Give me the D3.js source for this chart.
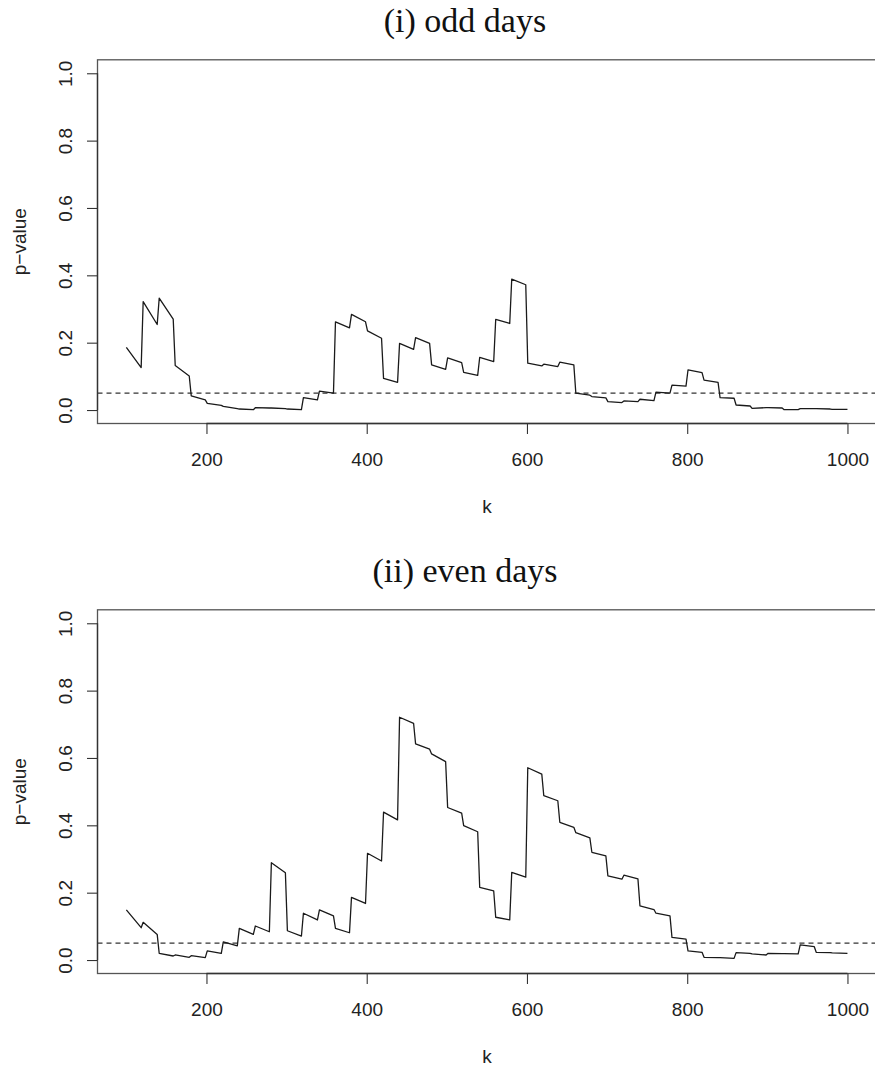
<!DOCTYPE html>
<html>
<head>
<meta charset="utf-8">
<script src="https://cdn.jsdelivr.net/npm/d3@7"></script>
<style>
  html, body { margin: 0; padding: 0; background: #fff; }
  svg { display: block; }
</style>
</head>
<body>
<svg id="chart" width="875" height="1066"></svg>
<script>
// ---------- data ----------
const panelTitles = ["(i) odd days", "(ii) even days"];
const xTickValues = [200, 400, 600, 800, 1000];
const yTickValues = [0, 0.2, 0.4, 0.6, 0.8, 1.0];
const threshold = 0.05;
const xLabel = "k";
const yLabel = "p\u2212value";

const oddK = [100,118.5,121,138.5,141,158.5,161,178.5,181,198.5,201,218.5,221,238.5,241,258.5,261,278.5,281,298.5,301,318.5,321,338.5,341,358.5,361,378.5,381,398.5,401,418.5,421,438.5,441,458.5,461,478.5,481,498.5,501,518.5,521,538.5,541,558.5,561,578.5,581,598.5,601,618.5,621,638.5,641,658.5,661,678.5,681,698.5,701,718.5,721,738.5,741,758.5,761,778.5,781,798.5,801,818.5,821,838.5,841,858.5,861,878.5,881,898.5,901,918.5,921,938.5,941,958.5,961,978.5,981,1000];
const oddP = [0.186,0.126,0.322,0.254,0.332,0.270,0.132,0.101,0.042,0.030,0.020,0.014,0.011,0.004,0.003,0.001,0.007,0.006,0.006,0.004,0.003,0.001,0.037,0.030,0.056,0.050,0.262,0.244,0.284,0.262,0.235,0.213,0.094,0.082,0.198,0.180,0.215,0.198,0.134,0.121,0.155,0.141,0.112,0.103,0.156,0.144,0.269,0.257,0.389,0.372,0.139,0.131,0.136,0.129,0.142,0.134,0.050,0.044,0.040,0.036,0.025,0.022,0.027,0.025,0.032,0.028,0.053,0.050,0.074,0.071,0.119,0.111,0.089,0.082,0.037,0.035,0.015,0.012,0.005,0.007,0.007,0.006,0.001,0.001,0.004,0.004,0.004,0.003,0.002,0.002];

const evenK = oddK.slice();
const evenP = [0.149,0.096,0.112,0.076,0.020,0.012,0.015,0.008,0.013,0.007,0.027,0.020,0.054,0.042,0.094,0.076,0.101,0.084,0.289,0.259,0.087,0.071,0.139,0.119,0.149,0.131,0.094,0.081,0.186,0.168,0.317,0.294,0.439,0.416,0.721,0.703,0.642,0.626,0.612,0.589,0.453,0.436,0.399,0.381,0.216,0.205,0.127,0.119,0.260,0.246,0.571,0.552,0.488,0.473,0.409,0.394,0.378,0.363,0.320,0.309,0.250,0.240,0.252,0.241,0.161,0.150,0.139,0.131,0.067,0.062,0.027,0.023,0.008,0.007,0.007,0.005,0.022,0.020,0.018,0.015,0.020,0.019,0.019,0.018,0.045,0.040,0.023,0.022,0.021,0.020];

const panels = [
  { title: panelTitles[0], k: oddK, p: oddP },
  { title: panelTitles[1], k: evenK, p: evenP }
];

// ---------- layout ----------
const svg = d3.select("#chart");
const plotLeft = 97.5, plotRight = 876.3;
const panelOffset = 550;
const axisColor = "#333";
const sansFont = "'Liberation Sans', Arial, Helvetica, sans-serif";
const sansSize = "19px";

const x = d3.scaleLinear().domain([64, 1036]).range([plotLeft, plotRight]);

panels.forEach((panel, i) => {
  const off = i * panelOffset;
  const y = d3.scaleLinear().domain([-0.04, 1.04]).range([423.5 + off, 59.8 + off]);
  const g = svg.append("g");

  // plot box
  g.append("rect")
    .attr("x", plotLeft).attr("y", y(1.04))
    .attr("width", plotRight - plotLeft).attr("height", y(-0.04) - y(1.04))
    .attr("fill", "none").attr("stroke", "#555").attr("stroke-width", 1.3);

  // x axis
  const xAxis = g.append("g")
    .attr("transform", `translate(0,${y(-0.04)})`)
    .call(d3.axisBottom(x).tickValues(xTickValues).tickFormat(d3.format("d"))
      .tickSize(10.5).tickSizeOuter(0).tickPadding(19));
  xAxis.select(".domain").attr("d", `M${x(xTickValues[0])},0H${x(xTickValues[xTickValues.length-1])}`)
    .attr("stroke", axisColor).attr("stroke-width", 1.3);
  xAxis.selectAll(".tick line").attr("stroke", axisColor).attr("stroke-width", 1.1);
  xAxis.selectAll(".tick text").attr("fill", "#222")
    .style("font-family", sansFont).style("font-size", sansSize);

  // y axis
  const yAxis = g.append("g")
    .attr("transform", `translate(${plotLeft},0)`)
    .call(d3.axisLeft(y).tickValues(yTickValues).tickFormat(d3.format(".1f")).tickSize(10.5).tickSizeOuter(0));
  yAxis.select(".domain").attr("d", `M0,${y(0)}V${y(1)}`)
    .attr("stroke", axisColor).attr("stroke-width", 1.3);
  yAxis.selectAll(".tick line").attr("stroke", axisColor).attr("stroke-width", 1.1);
  yAxis.selectAll(".tick text")
    .attr("x", null).attr("dy", null)
    .attr("transform", "translate(-26,0) rotate(-90)")
    .attr("text-anchor", "middle")
    .attr("fill", "#222")
    .style("font-family", sansFont).style("font-size", sansSize);

  // axis labels
  g.append("text")
    .attr("x", (plotLeft + plotRight) / 2).attr("y", 513 + off)
    .attr("text-anchor", "middle").attr("fill", "#222")
    .style("font-family", sansFont).style("font-size", sansSize)
    .text(xLabel);
  g.append("text")
    .attr("transform", `translate(26,${(y(1.04) + y(-0.04)) / 2}) rotate(-90)`)
    .attr("text-anchor", "middle").attr("fill", "#222")
    .style("font-family", sansFont).style("font-size", sansSize)
    .text(yLabel);

  // title
  g.append("text")
    .attr("x", 465).attr("y", 32 + off)
    .attr("text-anchor", "middle").attr("fill", "#111")
    .style("font-family", "'Liberation Serif', 'Times New Roman', serif")
    .style("font-size", "34px")
    .text(panel.title);

  // clip for data
  const clipId = "clip" + i;
  svg.append("clipPath").attr("id", clipId).append("rect")
    .attr("x", plotLeft).attr("y", y(1.04))
    .attr("width", plotRight - plotLeft).attr("height", y(-0.04) - y(1.04));

  // dashed threshold
  g.append("line")
    .attr("clip-path", `url(#${clipId})`)
    .attr("x1", plotLeft).attr("x2", plotRight)
    .attr("y1", y(threshold)).attr("y2", y(threshold))
    .attr("stroke", "#333").attr("stroke-width", 1.2)
    .attr("stroke-dasharray", "5,4");

  // series line
  const pts = panel.k.map((k, j) => [k, panel.p[j]]);
  g.append("path")
    .datum(pts)
    .attr("clip-path", `url(#${clipId})`)
    .attr("fill", "none").attr("stroke", "#1a1a1a").attr("stroke-width", 1.3)
    .attr("stroke-linejoin", "round")
    .attr("d", d3.line().x(d => x(d[0])).y(d => y(d[1])));
});
</script>
</body>
</html>
